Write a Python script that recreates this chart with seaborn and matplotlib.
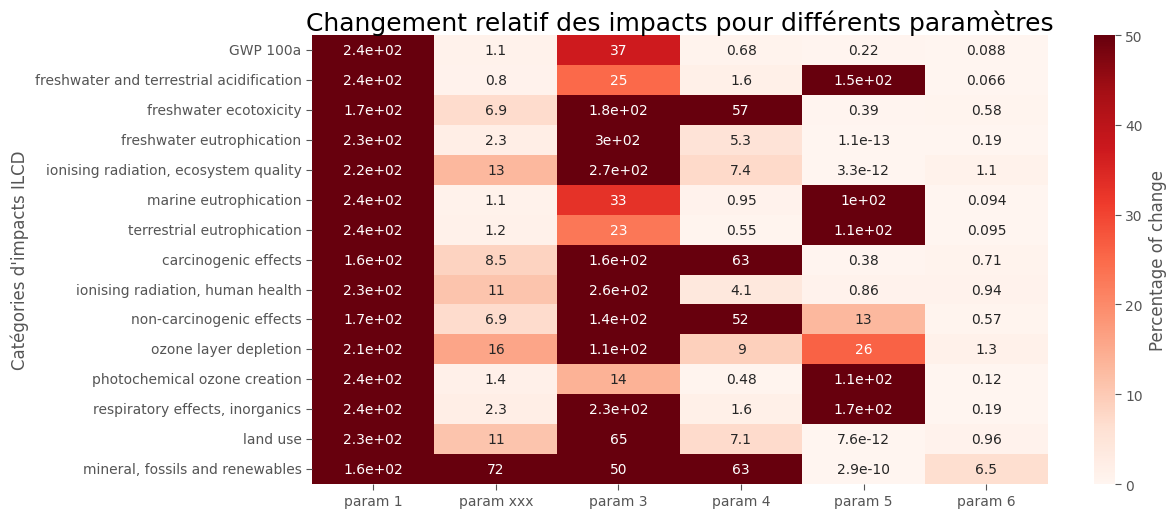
import numpy as np
import pandas as pd
import matplotlib
matplotlib.use("Agg")
import matplotlib.pyplot as plt
import seaborn as sns

categories = ["GWP 100a",
              "freshwater and terrestrial acidification",
              "freshwater ecotoxicity",
              "freshwater eutrophication",
              "ionising radiation, ecosystem quality",
              "marine eutrophication",
              "terrestrial eutrophication",
              "carcinogenic effects",
              "ionising radiation, human health",
              "non-carcinogenic effects",
              "ozone layer depletion",
              "photochemical ozone creation",
              "respiratory effects, inorganics",
              "land use",
              "mineral, fossils and renewables"]

params = ["param 1", "param xxx", "param 3", "param 4", "param 5", "param 6"]

param_1 = [240, 240, 170, 230, 220, 240, 240, 160, 230, 170, 210, 240, 240, 230, 160]
param_xxx = [1.1, 0.8, 6.9, 2.3, 13, 1.1, 1.2, 8.5, 11, 6.9, 16, 1.4, 2.3, 11, 72]
param_3 = [37, 25, 180, 300, 270, 33, 23, 160, 260, 140, 110, 14, 230, 65, 50]
param_4 = [0.68, 1.6, 57, 5.3, 7.4, 0.95, 0.55, 63, 4.1, 52, 9, 0.48, 1.6, 7.1, 63]
param_5 = [0.22, 150, 0.39, 1.1e-13, 3.3e-12, 100, 110, 0.38, 0.86, 13, 26, 110, 170, 7.6e-12, 2.9e-10]
param_6 = [0.088, 0.066, 0.58, 0.19, 1.1, 0.094, 0.095, 0.71, 0.94, 0.57, 1.3, 0.12, 0.19, 0.96, 6.5]

df = pd.DataFrame({"param 1": param_1, "param xxx": param_xxx, "param 3": param_3,
                   "param 4": param_4, "param 5": param_5, "param 6": param_6},
                  index=categories)

grey = "#555555"
plt.rcParams.update({"xtick.color": grey, "ytick.color": grey,
                     "axes.labelcolor": grey, "font.size": 10})

fig = plt.figure(figsize=(11.68, 5.10), dpi=100)
ax = fig.add_axes([0.267, 0.049, 0.630, 0.880])
cax = fig.add_axes([0.9366, 0.049, 0.018, 0.880])

sns.heatmap(df, ax=ax, cbar_ax=cax, cmap="Reds", vmin=0, vmax=50,
            annot=True, fmt=".2g", annot_kws={"fontsize": 10},
            cbar_kws={"label": "Percentage of change"})

ax.set_title("Changement relatif des impacts pour différents paramètres",
             fontsize=18, color="black", pad=4)
ax.set_ylabel("Catégories d'impacts ILCD", fontsize=12)
ax.tick_params(axis="both", labelsize=10, length=4, color=grey)
ax.set_xticklabels(params, rotation=0)
ax.set_yticklabels(categories, rotation=0)
cax.tick_params(labelsize=10, length=4, color=grey)
cax.yaxis.label.set_size(12)
ax.collections[0].colorbar.outline.set_visible(False)

fig.savefig("out.png", dpi=100)
